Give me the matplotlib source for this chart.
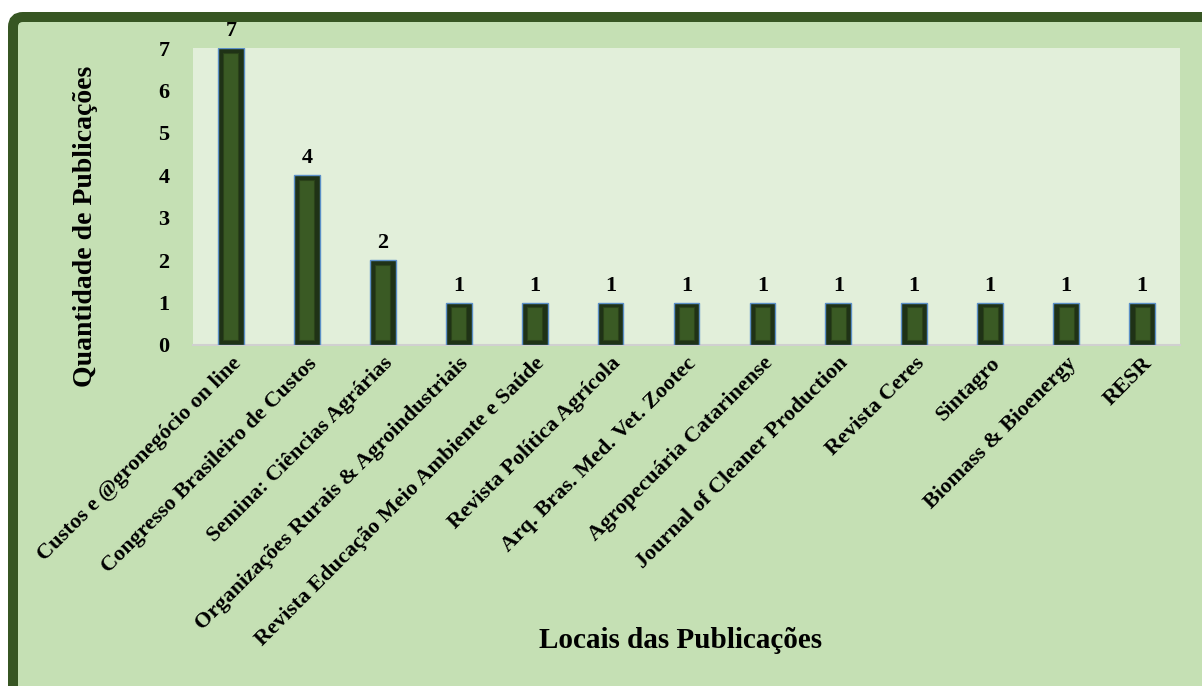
#!/usr/bin/env python3
"""
Quantidade de publicações por local (gráfico de barras).
Saída: out.png
"""

import matplotlib
matplotlib.use("Agg")
import matplotlib.pyplot as plt
from matplotlib.patches import FancyBboxPatch
from matplotlib.transforms import IdentityTransform

# dados
locais = [
    "Custos e @gronegócio on line",
    "Congresso Brasileiro de Custos",
    "Semina: Ciências Agrárias",
    "Organizações Rurais & Agroindustriais",
    "Revista Educação Meio Ambiente e Saúde",
    "Revista Política Agrícola",
    "Arq. Bras. Med. Vet. Zootec",
    "Agropecuária Catarinense",
    "Journal of Cleaner Production",
    "Revista Ceres",
    "Sintagro",
    "Biomass & Bioenergy",
    "RESR",
]
quantidade = [7, 4, 2, 1, 1, 1, 1, 1, 1, 1, 1, 1, 1]
yticks = [0, 1, 2, 3, 4, 5, 6, 7]

FONT = "Liberation Serif"
W, H, DPI = 1202, 686, 100

fig = plt.figure(figsize=(W / DPI, H / DPI), dpi=DPI)
fig.patch.set_facecolor("white")

# moldura verde arredondada (cortada à direita e embaixo)
frame = FancyBboxPatch(
    (13, -40), W + 40, H - 17 + 40,
    boxstyle="round,pad=0,rounding_size=10",
    transform=IdentityTransform(),
    facecolor="#C5E0B4", edgecolor="#375623", linewidth=7.2,
    zorder=-5,
)
fig.patches.append(frame)

ax = fig.add_axes([193 / W, 1 - 345 / H, 987 / W, 297 / H])
ax.set_zorder(2)
ax.set_facecolor("#E2EFDA")

x = list(range(len(locais)))
bw = 0.34
ax.bar(x, quantidade, width=bw, color="#1F3216", edgecolor="#5B8FC7",
       linewidth=1.0, zorder=3)
# face interna (efeito chanfrado)
inner = [max(q - 0.22, 0) for q in quantidade]
ax.bar(x, inner, bottom=0.11, width=bw * 0.58, color="#3A5A24",
       edgecolor="#2A4219", linewidth=0.8, zorder=4)

for xi, q in zip(x, quantidade):
    ax.annotate(str(q), (xi, q), xytext=(0, 5), textcoords="offset points",
                ha="center", va="bottom", fontsize=16, fontweight="bold",
                family=FONT, zorder=5, annotation_clip=False)

ax.set_xlim(-0.5, len(locais) - 0.5)
ax.set_ylim(0, 7)
ax.set_yticks(yticks)
ax.set_yticklabels([str(v) for v in yticks], fontsize=16, fontweight="bold",
                   family=FONT)
ax.set_xticks(x)
ax.set_xticklabels(locais, rotation=45, ha="right", rotation_mode="anchor",
                   fontsize=16, fontweight="bold", family=FONT)
ax.tick_params(axis="both", length=0)
ax.tick_params(axis="y", pad=17)
ax.tick_params(axis="x", pad=6)

for s in ["top", "right", "left"]:
    ax.spines[s].set_visible(False)
ax.spines["bottom"].set_color("#D0D0D0")
ax.spines["bottom"].set_linewidth(1.5)

fig.text(85 / W, 1 - 226 / H, "Quantidade de Publicações", rotation=90,
         ha="center", va="center", fontsize=20, fontweight="bold", family=FONT)
fig.text(681 / W, 1 - 640 / H, "Locais das Publicações",
         ha="center", va="center", fontsize=21, fontweight="bold",
         family=FONT)

fig.savefig("out.png", dpi=DPI)
